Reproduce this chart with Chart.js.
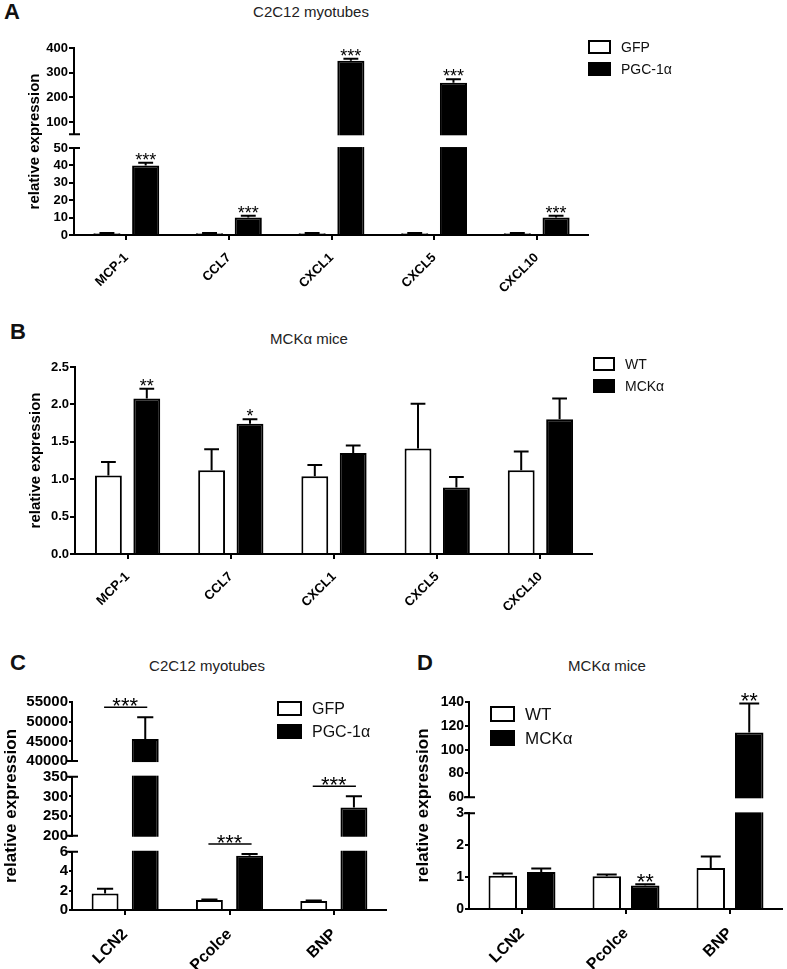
<!DOCTYPE html>
<html>
<head>
<meta charset="utf-8">
<script src="https://cdn.jsdelivr.net/npm/chart.js@4.4.1/dist/chart.umd.min.js"></script>
<style>
  body { margin: 0; background: #fff; }
  #page { position: relative; width: 787px; height: 969px; font-family: "Liberation Sans", Arial, sans-serif; }
  canvas { position: absolute; }
  .letter { position: absolute; font-size: 22px; font-weight: bold; line-height: 1; color: #111; transform: translate(-50%, -50%); }
  .title { position: absolute; font-size: 15px; line-height: 1; color: #222; white-space: nowrap; transform: translate(-50%, -50%); }
</style>
</head>
<body>
<div id="page">
  <div class="letter" style="left:12px;top:12px">A</div>
  <div class="title" style="left:311px;top:11px">C2C12 myotubes</div>
  <div class="letter" style="left:18px;top:332px">B</div>
  <div class="title" style="left:309px;top:338px">MCKα mice</div>
  <div class="letter" style="left:18px;top:663px">C</div>
  <div class="title" style="left:207px;top:665px">C2C12 myotubes</div>
  <div class="letter" style="left:425px;top:663px">D</div>
  <div class="title" style="left:607px;top:665px">MCKα mice</div>

  <canvas id="chartA" width="787" height="300" style="left:0;top:0"></canvas>
  <canvas id="chartB" width="787" height="310" style="left:0;top:300px"></canvas>
  <canvas id="chartC" width="395" height="359" style="left:0;top:610px"></canvas>
  <canvas id="chartD" width="392" height="359" style="left:395px;top:610px"></canvas>
</div>
<script>
// A - chemokines in C2C12 myotubes
const genesA = ['MCP-1', 'CCL7', 'CXCL1', 'CXCL5', 'CXCL10']
const gfpA = [1, 1, 1, 1, 1]
const gfpErrA = [0.1, 0.1, 0.1, 0.1, 0.1]
const pgcA = [40, 10, 348, 259, 10]
const pgcErrA = [1.6, 1, 8, 14, 1]
const starsA = ['***', '***', '***', '***', '***']
const ticksA = [0, 10, 20, 30, 40, 50, 100, 200, 300, 400]

// B - chemokines in MCKa mice
const wtB = [1.05, 1.12, 1.04, 1.41, 1.12]
const wtErrB = [0.18, 0.28, 0.15, 0.60, 0.25]
const mckB = [2.08, 1.74, 1.35, 0.89, 1.80]
const mckErrB = [0.13, 0.06, 0.10, 0.14, 0.28]
const starsB = ['**', '*', '', '', '']
const ticksB = [0, 0.5, 1, 1.5, 2, 2.5]

// C - C2C12 myotubes
const genesC = ['LCN2', 'Pcolce', 'BNP']
const gfpC = [1.7, 1.03, 0.93]
const gfpErrC = [0.5, 0.05, 0.05]
const pgcC = [45600, 5.6, 272]
const pgcErrC = [5500, 0.17, 28]
const starsC = ['***', '***', '***']
const ticksC = [0, 2, 4, 6, 200, 250, 300, 350, 40000, 45000, 50000, 55000]

// D - MCKa mice
const wtD = [1.04, 1.03, 1.29]
const wtErrD = [0.07, 0.05, 0.36]
const mckD = [1.16, 0.74, 114.4]
const mckErrD = [0.11, 0.04, 24.4]
const starsD = ['', '**', '**']
const ticksD = [0, 1, 2, 3, 60, 80, 100, 120, 140]

// pieces of each broken y axis: value range -> share of the axis height
const axisBreaks = {
  chartA: [{min: 0, max: 50, lo: 0, hi: 0.465}, {min: 50, max: 400, lo: 0.5385, hi: 1}],
  chartB: [{min: 0, max: 2.5, lo: 0, hi: 1}],
  chartC: [{min: 0, max: 6, lo: 0, hi: 0.280}, {min: 200, max: 350, lo: 0.357, hi: 0.641}, {min: 40000, max: 55000, lo: 0.716, hi: 1}],
  chartD: [{min: 0, max: 3, lo: 0, hi: 0.462}, {min: 60, max: 140, lo: 0.5396, hi: 1}],
}

Chart.defaults.font.family = '"Liberation Sans", Arial, sans-serif'
Chart.defaults.color = '#000'

// linear scale made of several linear pieces
class BrokenScale extends Chart.LinearScale {
  getPixelForValue(value) {
    const segs = axisBreaks[this.chart.canvas.id]
    let s = segs[segs.length - 1]
    for (const seg of segs) {
      if (value <= seg.max) { s = seg; break }
    }
    const f = s.lo + (value - s.min) / (s.max - s.min) * (s.hi - s.lo)
    return this.bottom - f * (this.bottom - this.top)
  }
}
BrokenScale.id = 'broken'
BrokenScale.defaults = Chart.LinearScale.defaults
Chart.register(BrokenScale)

// error bars, stars, axis pieces and legend
function extras(cfg) {
  return {
    id: 'extras',
    afterDatasetsDraw(chart) {
      const ctx = chart.ctx
      const area = chart.chartArea
      const y = chart.scales.y
      const segs = axisBreaks[chart.canvas.id]
      const fracPx = f => y.bottom - f * (y.bottom - y.top)
      ctx.save()

      // cut the gaps out of the bars
      ctx.fillStyle = '#fff'
      for (let i = 1; i < segs.length; i++) {
        const yLow = fracPx(segs[i - 1].hi), yHigh = fracPx(segs[i].lo)
        ctx.fillRect(area.left + 1, yHigh + 1, area.right - area.left, yLow - yHigh - 2)
      }

      // y axis line, one piece per segment
      ctx.strokeStyle = '#000'
      ctx.lineWidth = 2
      const ax = area.left - 1
      segs.forEach((s, i) => {
        const y0 = fracPx(s.lo), y1 = fracPx(s.hi)
        ctx.beginPath()
        ctx.moveTo(ax, y0 + (i == 0 ? 1 : 0))
        ctx.lineTo(ax, y1 - 1)
        if (i > 0) { ctx.moveTo(ax - 5, y0); ctx.lineTo(ax + 6, y0) }
        if (i < segs.length - 1) { ctx.moveTo(ax - 5, y1); ctx.lineTo(ax + 6, y1) }
        ctx.stroke()
      })

      // error bars (upper half only)
      const tops = cfg.errors.map((errs, d) => {
        const vals = chart.data.datasets[d].data
        return chart.getDatasetMeta(d).data.map((bar, j) => {
          const top = y.getPixelForValue(vals[j] + errs[j])
          const half = bar.width * cfg.cap / 2
          ctx.beginPath()
          ctx.moveTo(bar.x, bar.y)
          ctx.lineTo(bar.x, top)
          ctx.moveTo(bar.x - half, top)
          ctx.lineTo(bar.x + half, top)
          ctx.stroke()
          return top
        })
      })

      // significance
      ctx.fillStyle = '#000'
      ctx.textAlign = 'center'
      ctx.textBaseline = 'alphabetic'
      ctx.font = cfg.starFont
      cfg.stars.forEach((s, j) => {
        if (!s) return
        const a = chart.getDatasetMeta(0).data[j]
        const b = chart.getDatasetMeta(1).data[j]
        if (cfg.bracket) {
          const ly = Math.min(tops[0][j], tops[1][j]) - 10
          ctx.lineWidth = 1.5
          ctx.beginPath()
          ctx.moveTo(a.x - 1, ly)
          ctx.lineTo(b.x + 2, ly)
          ctx.stroke()
          ctx.fillText(s, (a.x + b.x) / 2, ly + cfg.starShift)
        } else {
          ctx.fillText(s, b.x, tops[1][j] + cfg.starShift)
        }
      })

      // legend
      const lg = cfg.legend
      ctx.lineWidth = 2
      ctx.font = lg.font
      ctx.textAlign = 'left'
      ctx.textBaseline = 'middle'
      chart.data.datasets.forEach((ds, d) => {
        const ly = lg.y + d * lg.step
        ctx.fillStyle = ds.backgroundColor
        ctx.fillRect(lg.x, ly, lg.w, lg.h)
        ctx.strokeRect(lg.x, ly, lg.w, lg.h)
        ctx.fillStyle = '#111'
        ctx.fillText(ds.label, lg.x + lg.w + 11, ly + lg.h / 2 + 1)
      })
      ctx.restore()
    }
  }
}

function makePanel(id, cfg) {
  return new Chart(document.getElementById(id), {
    type: 'bar',
    data: {
      labels: cfg.labels,
      datasets: cfg.series.map((s, i) => ({
        label: s.label,
        data: s.data,
        backgroundColor: i == 0 ? '#fff' : '#000',
        borderColor: '#000',
        borderWidth: 2,
        categoryPercentage: cfg.catPct,
        barPercentage: cfg.barPct,
      }))
    },
    options: {
      responsive: false,
      animation: false,
      events: [],
      layout: { padding: cfg.pad },
      plugins: { legend: { display: false }, tooltip: { enabled: false } },
      scales: {
        x: {
          grid: { drawOnChartArea: false, offset: false, tickLength: 5, color: '#000', lineWidth: 2 },
          border: { color: '#000', width: 2 },
          ticks: { autoSkip: false, maxRotation: 45, minRotation: 45, padding: cfg.xPad, font: { size: cfg.xFont, weight: 'bold' } },
          afterFit: s => { s.height = cfg.xHeight },
        },
        y: {
          type: 'broken',
          min: 0,
          max: cfg.ticks[cfg.ticks.length - 1],
          afterBuildTicks: s => { s.ticks = cfg.ticks.map(v => ({ value: v })) },
          afterFit: s => { s.width = cfg.yWidth },
          grid: { drawOnChartArea: false, tickLength: cfg.yTick, color: '#000', lineWidth: 2 },
          border: { display: false },
          ticks: { autoSkip: false, padding: 1, font: { size: cfg.yFont, weight: 'bold' }, callback: cfg.fmt },
          title: { display: true, text: 'relative expression', font: { size: cfg.titleSize, weight: 'bold' }, padding: { top: cfg.titlePad, bottom: 0 } },
        }
      }
    },
    plugins: [extras(cfg)]
  })
}

makePanel('chartA', {
  labels: genesA,
  series: [{ label: 'GFP', data: gfpA }, { label: 'PGC-1α', data: pgcA }],
  errors: [gfpErrA, pgcErrA],
  stars: starsA, bracket: false, starFont: '18px "Liberation Sans", Arial', starShift: 3,
  ticks: ticksA, fmt: v => String(v),
  pad: { top: 48, left: 0, right: 199, bottom: 0 },
  yWidth: 75, xHeight: 65, yTick: 6, yFont: 13, xFont: 13, xPad: 10,
  titleSize: 15, titlePad: 26, catPct: 0.755, barPct: 0.70, cap: 0.55,
  legend: { x: 589, y: 41, w: 21, h: 12, step: 22, font: '14px "Liberation Sans", Arial' },
})

makePanel('chartB', {
  labels: genesA,
  series: [{ label: 'WT', data: wtB }, { label: 'MCKα', data: mckB }],
  errors: [wtErrB, mckErrB],
  stars: starsB, bracket: false, starFont: '18px "Liberation Sans", Arial', starShift: 3,
  ticks: ticksB, fmt: v => v.toFixed(1),
  pad: { top: 67, left: 0, right: 195, bottom: 0 },
  yWidth: 76, xHeight: 56, yTick: 6, yFont: 13, xFont: 13, xPad: 10,
  titleSize: 15, titlePad: 27, catPct: 0.744, barPct: 0.70, cap: 0.55,
  legend: { x: 594, y: 58, w: 20, h: 12, step: 22, font: '14px "Liberation Sans", Arial' },
})

makePanel('chartC', {
  labels: genesC,
  series: [{ label: 'GFP', data: gfpC }, { label: 'PGC-1α', data: pgcC }],
  errors: [gfpErrC, pgcErrC],
  stars: starsC, bracket: true, starFont: '22px "Liberation Sans", Arial', starShift: 6,
  ticks: ticksC, fmt: v => String(v),
  pad: { top: 92, left: 0, right: 9, bottom: 0 },
  yWidth: 73, xHeight: 59, yTick: 4, yFont: 15, xFont: 16, xPad: 10,
  titleSize: 17, titlePad: 1, catPct: 0.77, barPct: 0.67, cap: 0.6,
  legend: { x: 278, y: 92, w: 23, h: 13, step: 23, font: '16px "Liberation Sans", Arial' },
})

makePanel('chartD', {
  labels: genesC,
  series: [{ label: 'WT', data: wtD }, { label: 'MCKα', data: mckD }],
  errors: [wtErrD, mckErrD],
  stars: starsD, bracket: false, starFont: '22px "Liberation Sans", Arial', starShift: 5,
  ticks: ticksD, fmt: v => String(v),
  pad: { top: 92, left: 0, right: 5, bottom: 0 },
  yWidth: 75, xHeight: 60, yTick: 5, yFont: 14, xFont: 16, xPad: 10,
  titleSize: 17, titlePad: 18, catPct: 0.74, barPct: 0.74, cap: 0.7,
  legend: { x: 96, y: 97, w: 23, h: 14, step: 24, font: '17px "Liberation Sans", Arial' },
})
</script>
</body>
</html>
